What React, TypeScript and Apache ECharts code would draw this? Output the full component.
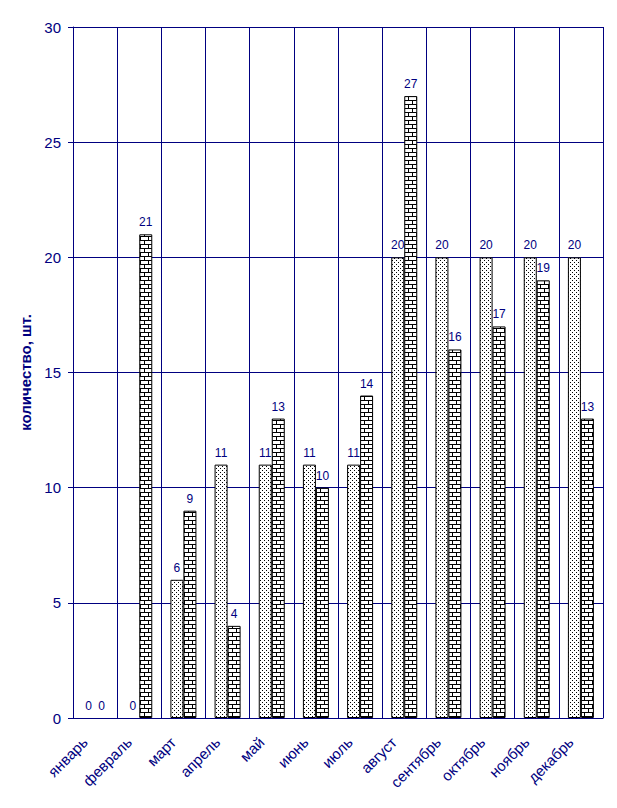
import React, { useEffect, useRef } from "react";
import * as echarts from "echarts";

const categories = ["январь", "февраль", "март", "апрель", "май", "июнь", "июль", "август", "сентябрь", "октябрь", "ноябрь", "декабрь"];
const seriesDotted = [0, 0, 6, 11, 11, 11, 11, 20, 20, 20, 20, 20];
const seriesBrick = [0, 21, 9, 4, 13, 10, 14, 27, 16, 17, 19, 13];
const yTicks = [0, 5, 10, 15, 20, 25, 30];

const NAVY = "#000080";
const FONT = "'Liberation Sans', Arial, sans-serif";

function makeDotted(): string {
  const c = document.createElement("canvas");
  c.width = 4;
  c.height = 4;
  const ctx = c.getContext("2d")!;
  ctx.fillStyle = "#fff";
  ctx.fillRect(0, 0, 4, 4);
  ctx.fillStyle = "#000";
  ctx.fillRect(0, 0, 1, 1);
  ctx.fillRect(2, 2, 1, 1);
  return c.toDataURL();
}

function makeBrick(): string {
  const c = document.createElement("canvas");
  c.width = 8;
  c.height = 8;
  const ctx = c.getContext("2d")!;
  ctx.fillStyle = "#fff";
  ctx.fillRect(0, 0, 8, 8);
  ctx.fillStyle = "#000";
  ctx.fillRect(0, 0, 8, 1);
  ctx.fillRect(0, 4, 8, 1);
  ctx.fillRect(0, 0, 1, 4);
  ctx.fillRect(4, 4, 1, 4);
  return c.toDataURL();
}

const toItems = (arr: number[]) =>
  arr.map((v) =>
    v === 0 ? { value: v, itemStyle: { borderWidth: 0, color: "rgba(0,0,0,0)" } } : v
  );

const makeLabel = () => ({
  show: true,
  position: "top" as const,
  distance: 6,
  color: NAVY,
  fontSize: 12,
  fontFamily: FONT,
  textBorderWidth: 0,
});

export default function App() {
  const ref = useRef<HTMLDivElement>(null);
  useEffect(() => {
    if (!ref.current) return;
    const chart = echarts.init(ref.current, null, { renderer: "svg" });
    const dotted = makeDotted();
    const brick = makeBrick();
    chart.setOption({
      animation: false,
      backgroundColor: "#fff",
      grid: { left: 65, right: 6, top: 19, bottom: 82, containLabel: false },
      xAxis: {
        type: "category",
        data: categories,
        axisLine: { show: true, lineStyle: { color: NAVY, width: 1 } },
        axisTick: { show: false },
        splitLine: { show: true, lineStyle: { color: NAVY, width: 1 } },
        axisLabel: {
          interval: 0,
          rotate: 45,
          color: NAVY,
          fontSize: 15,
          fontFamily: FONT,
          margin: 22,
          verticalAlign: "bottom",
          padding: [0, 7, 0, 0],
        },
      },
      yAxis: {
        type: "value",
        min: 0,
        max: 30,
        interval: 5,
        name: "количество, шт.",
        nameLocation: "middle",
        nameGap: 40,
        nameRotate: 90,
        nameTextStyle: { color: NAVY, fontSize: 15, fontWeight: "bold", fontFamily: FONT },
        axisLine: { show: true, lineStyle: { color: NAVY, width: 1 } },
        axisTick: { show: true, length: 5, inside: false, lineStyle: { color: NAVY } },
        splitLine: { show: true, lineStyle: { color: NAVY, width: 1 } },
        axisLabel: {
          color: NAVY,
          fontSize: 15,
          fontFamily: FONT,
          margin: 12,
          formatter: (v: number) => (yTicks.includes(v) ? String(v) : ""),
        },
      },
      series: [
        {
          type: "bar",
          data: toItems(seriesDotted),
          barWidth: 13,
          barGap: "0%",
          itemStyle: {
            color: { image: dotted, repeat: "repeat" },
            borderColor: "#000",
            borderWidth: 1,
          },
          label: makeLabel(),
        },
        {
          type: "bar",
          data: toItems(seriesBrick),
          barWidth: 13,
          barGap: "0%",
          itemStyle: {
            color: { image: brick, repeat: "repeat" },
            borderColor: "#000",
            borderWidth: 1,
          },
          label: makeLabel(),
        },
      ],
    });
    return () => chart.dispose();
  }, []);
  return <div ref={ref} style={{ width: 601, height: 792 }} />;
}
